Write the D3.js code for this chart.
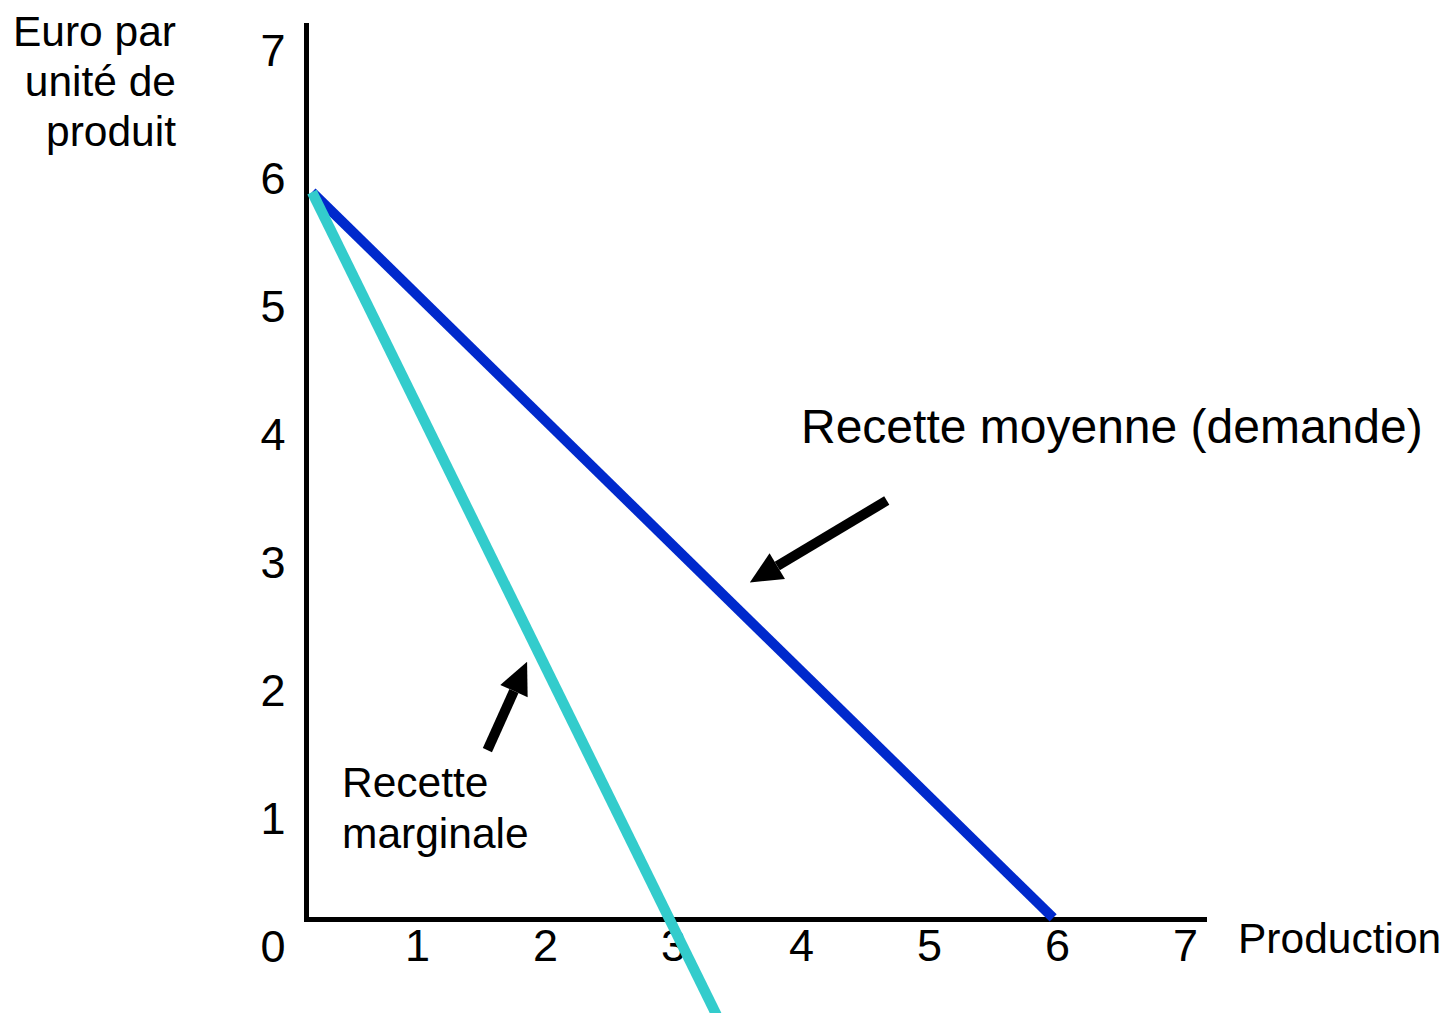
<!DOCTYPE html>
<html lang="fr">
<head>
  <title>Recette moyenne et recette marginale</title>
  <meta charset="utf-8"/>
  <script src="https://d3js.org/d3.v7.min.js"></script>
  <style>
    body { margin: 0; background: #fff; }
    .texte {
      font-family: "Liberation Sans", Arial, sans-serif;
      font-weight: 400;
      fill: #000;
    }
  </style>
</head>
<body>
<svg id="graphe" width="1447" height="1013"></svg>

<script type="text/javascript">
  // valeurs
  const ticksY = [0, 1, 2, 3, 4, 5, 6, 7];
  const ticksX = [1, 2, 3, 4, 5, 6, 7];
  // recette moyenne (demande)
  const recetteMoyenne = [[0.18, 5.89], [5.97, 0.22]];
  // recette marginale, continue sous l'axe
  const recetteMarginale = [[0.18, 5.89], [3.38, -0.62]];
  // flèches : [départ, pointe]
  const fleches = [
    [[4.67, 3.48], [3.60, 2.84]],
    [[1.55, 1.53], [1.86, 2.22]]
  ];
  const titreY = ["Euro par", "unité de", "produit"];
  const etiquetteMarginale = ["Recette", "marginale"];

  const svg = d3.select("#graphe");

  const x = d3.scaleLinear().domain([0, 7]).range([289, 1185]);
  const y = d3.scaleLinear().domain([0, 7]).range([946, 50]);

  // axes
  svg.append("line")
          .attr("x1", 306.5).attr("y1", 23)
          .attr("x2", 306.5).attr("y2", 922)
          .attr("stroke", "#000").attr("stroke-width", 5);
  svg.append("line")
          .attr("x1", 304).attr("y1", 919.5)
          .attr("x2", 1207).attr("y2", 919.5)
          .attr("stroke", "#000").attr("stroke-width", 5);

  // graduations
  const axeY = svg.append("g")
          .attr("transform", "translate(290,0)")
          .call(d3.axisLeft(y).tickValues(ticksY).tickFormat(d3.format("d")).tickSize(0).tickPadding(0));
  axeY.select(".domain").remove();
  axeY.selectAll("text")
          .attr("class", "texte")
          .attr("text-anchor", "middle")
          .attr("x", -17)
          .attr("dy", "0.35em")
          .style("font-size", "45px");

  const axeX = svg.append("g")
          .attr("transform", "translate(0,945)")
          .call(d3.axisBottom(x).tickValues(ticksX).tickFormat(d3.format("d")).tickSize(0).tickPadding(0));
  axeX.select(".domain").remove();
  axeX.selectAll("text")
          .attr("class", "texte")
          .attr("y", 0)
          .attr("dy", "0.35em")
          .style("font-size", "45px");

  // titres des axes
  svg.append("g").selectAll("text")
          .data(titreY)
          .enter()
          .append("text")
          .attr("class", "texte")
          .attr("text-anchor", "end")
          .attr("x", 176)
          .attr("y", (d, i) => 46 + i * 50)
          .style("font-size", "42.5px")
          .text(d => d);

  svg.append("text")
          .attr("class", "texte")
          .attr("x", 1238)
          .attr("y", 953)
          .style("font-size", "42.5px")
          .text("Production");

  // courbes
  const ligne = d3.line().x(d => x(d[0])).y(d => y(d[1]));

  svg.append("path")
          .attr("d", ligne(recetteMoyenne))
          .attr("fill", "none")
          .attr("stroke", "#0029cc")
          .attr("stroke-width", 10);

  svg.append("path")
          .attr("d", ligne(recetteMarginale))
          .attr("fill", "none")
          .attr("stroke", "#33cccc")
          .attr("stroke-width", 10.5);

  // flèches
  fleches.forEach(function (f) {
    const x0 = x(f[0][0]), y0 = y(f[0][1]);
    const x1 = x(f[1][0]), y1 = y(f[1][1]);
    const ang = Math.atan2(y1 - y0, x1 - x0);
    const lg = 32, demi = 15;
    const bx = x1 - lg * Math.cos(ang), by = y1 - lg * Math.sin(ang);
    svg.append("line")
            .attr("x1", x0).attr("y1", y0)
            .attr("x2", bx).attr("y2", by)
            .attr("stroke", "#000")
            .attr("stroke-width", 10);
    svg.append("polygon")
            .attr("points", [
              [x1, y1],
              [bx + demi * Math.sin(ang), by - demi * Math.cos(ang)],
              [bx - demi * Math.sin(ang), by + demi * Math.cos(ang)]
            ].map(p => p.join(",")).join(" "))
            .attr("fill", "#000");
  });

  // étiquettes
  svg.append("text")
          .attr("class", "texte")
          .attr("x", 801)
          .attr("y", 443)
          .style("font-size", "48px")
          .text("Recette moyenne (demande)");

  svg.append("g").selectAll("text")
          .data(etiquetteMarginale)
          .enter()
          .append("text")
          .attr("class", "texte")
          .attr("x", 342)
          .attr("y", (d, i) => 797 + i * 51)
          .style("font-size", "42.5px")
          .text(d => d);
</script>
</body>
</html>
